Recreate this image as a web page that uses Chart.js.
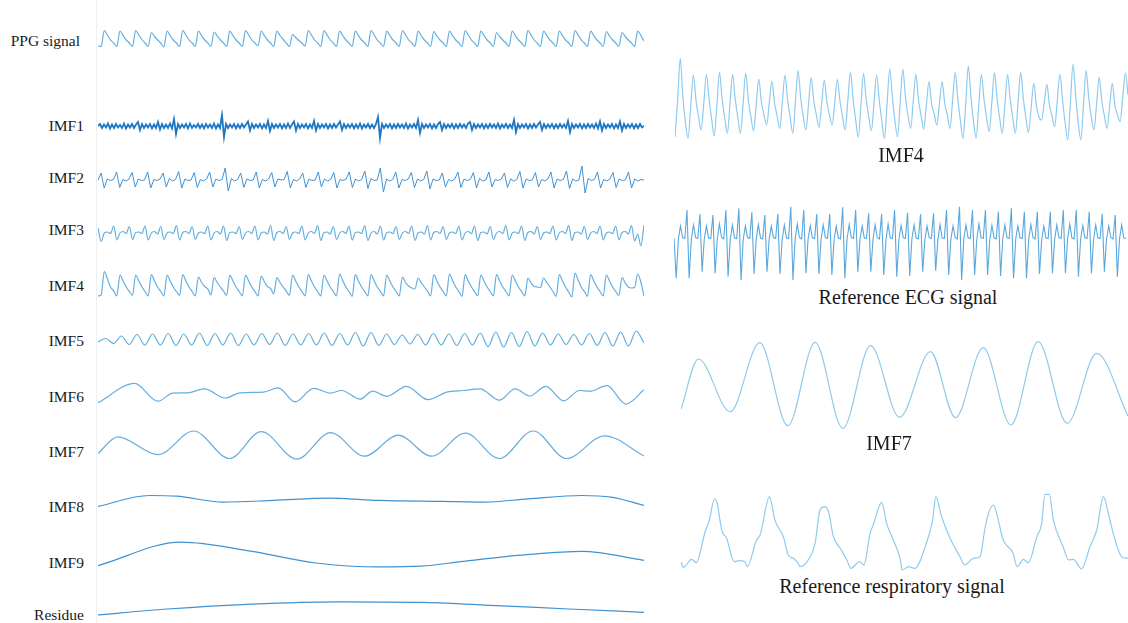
<!DOCTYPE html>
<html>
<head>
<meta charset="utf-8">
<script src="https://cdn.jsdelivr.net/npm/chart.js@4.4.1/dist/chart.umd.min.js"></script>
<style>
  body { margin: 0; background: #fff; }
  #page { position: relative; width: 1128px; height: 623px; overflow: hidden;
          font-family: "Liberation Serif", "Times New Roman", serif; color: #1a1a1a; }
  #page canvas { position: absolute; }
  .lab { position: absolute; font-size: 15.5px; line-height: 1; white-space: nowrap; transform: translateY(-50%); }
  .cap { position: absolute; font-size: 20px; line-height: 1; white-space: nowrap; transform: translate(-50%, -50%); }
  #divider { position: absolute; left: 96px; top: 0; width: 1px; height: 623px; background: #efefef; }
</style>
</head>
<body>
<div id="page"><div id="divider"></div></div>
<script>
/* ---------- DATA ---------- */
// left column, evenly sampled signals
const ppgSignal = [9, 8.5,
  24.5,20,15,12,8.5, 24,19.5,15,12,8.5, 24.5,20,15.5,12,8.5, 22.5,18.5,15,12,8, 24,19.5,15,12,8.5,
  24.5,20,15,12,8.5, 24,19.5,15,12,8.5, 23,19,15,12,8.5, 24,19.5,15,12,8.5, 24.5,20,15,12,9,
  24,19.5,15,12,8.5, 24,19.5,15.5,12,8.5, 20.5,17.5,14.5,12,9, 24.5,20,15,12,8.5, 24.5,20,15,12,8.5,
  24,19.5,15,12,8.5, 24,19.5,15,12,8.5, 24.5,20,15,12,8.5, 24,19.5,15,12,8.5, 24.5,20,15,12,8.5,
  24,19.5,15,12,8.5, 23.5,19,15,12,8.5, 24,19.5,15,12,8.5, 24.5,20,15,12,8.5, 24,19.5,15,12,8.5,
  22.5,18.5,15,12,8.5, 24,19.5,15,12,8.5, 24.5,20,15,12,8.5, 24,19.5,15,12,8.5, 24,19.5,15,12,8.5,
  24.5,20,15,12,8.5, 24,19.5,15,12,8.5, 23.5,19,15,12,8.5, 22.5,18.5,15,12,8.5,
  24,19.5,14];

const imf1 = [
  19,21,17,20.5,17.5,21.5,16.5,20.5,17,21,17.5,20,17,21.5,16.5,20.5,17.5,21,17,20.5,
  23,15,21,17,20.5,17.5,21,16.5,20.5,17,23,15.5,21,17,20.5,17,21.5,16.5,26,11,
  21,17,20.5,17.5,21,16.5,21.5,17,20,17.5,21,17,20.5,16.5,21,17.5,20.5,17,21.5,16.5,
  20.5,17,30,8,21,17,20.5,17.5,21,16.5,20.5,17,21,17.5,20.5,23.5,14.5,21,17,20.5,
  17.5,21,16.5,20.5,17,24,14,21,17,20.5,17.5,21,16.5,20.5,17,21.5,17,20.5,23.5,14.5,
  21,17,20.5,17.5,21,16.5,20.5,17,24,14.5,21,17,20.5,17.5,21,16.5,20.5,17,21,17.5,
  20.5,23.5,15,21,17,20.5,17.5,21,16.5,20.5,17,21.5,16.5,20.5,17.5,21,17,20.5,17,21,
  28,7,21,17,20.5,17.5,21,16.5,20.5,17,21,17.5,20.5,17,21.5,16.5,20.5,17.5,21,17,
  25,12,21,17,20.5,17.5,21,16.5,20.5,17,21,23,15,21,17,20.5,17.5,21,16.5,20.5,
  17,21,17.5,20.5,17,21.5,23,15,21,17,20.5,17.5,21,16.5,20.5,17,21,17.5,20.5,17,
  21.5,16.5,20.5,17.5,21,17,20.5,17,25,13,21,17,20.5,17.5,21,16.5,20.5,17,21,17.5,
  20.5,23,15,21,17,20.5,17.5,21,16.5,20.5,17,21,17.5,20.5,17,24,13,21,17,20.5,
  17.5,21,16.5,20.5,17,21,17.5,20.5,17,21.5,16.5,23.5,14.5,21,17,20.5,17.5,21,16.5,20.5,
  17,23.5,14.5,21,17,20.5,17.5,21,16.5,20.5,17,21,17.5,19];

const imf2 = [20,
  27,12,21,19.5,20.5, 28,12.5,20.5,19,21, 27.5,13,21,19.5,20, 28,12,20.5,19.5,21, 27,13,21.5,19,20.5,
  28.5,12,21,19.5,20, 27.5,12.5,20.5,19,21, 28,13,21,19.5,20.5, 32,9,21.5,19,20.5, 27,12.5,21,19.5,20,
  28,12,20.5,19,21, 27.5,13,21,20,20.5, 28.5,12,20.5,19,21, 27,12.5,21,19.5,20, 28,13,21,19,20.5,
  27.5,12,20.5,19.5,21, 28,12.5,21,19,20.5, 29,11.5,21.5,19.5,20, 32,8,21,19,20.5, 28,12,20.5,19.5,21,
  27.5,12.5,21,19,20.5, 29,11,21,19.5,20, 27,13,20.5,19,21, 28,12.5,21,19.5,20.5, 27.5,12,21.5,19,20,
  28,13,20.5,19.5,21, 27,12.5,21,19,20.5, 28.5,12,21,19.5,20, 27.5,13,20.5,19,21, 28,12,21,19.5,20.5,
  29,11.5,21,19,20, 34,7,21.5,19.5,20.5, 28,12,20.5,19,21, 27.5,12.5,21,19.5,20, 28,12,21,19,20.5,
  20];

const imf3 = [
  22,8.5,17,18,16.5, 24,10,17,18.5,16.5, 23.5,10.5,17.5,18,16.5, 24,10,17,18.5,16, 23.5,10.5,17,18,16.5,
  24.5,10,17.5,18.5,16.5, 23.5,10.5,17,18,16.5, 24,10,17,18.5,16, 24,9.5,17.5,18,16.5, 23.5,10.5,17,18.5,16.5,
  24,10,17,18,16, 24.5,9.5,17.5,18.5,16.5, 23.5,10.5,17,18,16.5, 24,10,17,18.5,16.5, 24.5,9.5,17.5,18,16,
  23.5,10.5,17,18.5,16.5, 24,10,17.5,18,16.5, 24.5,9.5,17,18.5,16, 24,10,17.5,18,16.5, 23.5,10.5,17,18.5,16.5,
  24,9.5,17,18,16, 24.5,10,17.5,18.5,16.5, 23.5,10.5,17,18,16.5, 24,10,17,18.5,16.5, 24,9.5,17.5,18,16,
  23.5,10.5,17,18.5,16.5, 24.5,10,17,18,16.5, 24,9.5,17.5,18.5,16, 23.5,10.5,17,18,16.5, 24,10,17,18.5,16.5,
  24.5,9.5,17.5,18,16, 23.5,10.5,17,18.5,16.5, 24,10,17,18,16.5, 24,10,17.5,18.5,16, 24.5,9,16,4,25];

const imf4 = [6, 7,
  30.5,23,15,11,6, 27,21,15,10.5,6.5, 27,21,15,10.5,6, 27.5,21,15,10.5,6, 27,21,15,10.5,6.5,
  27.5,21,15,10.5,6, 25,19.5,15.5,13,7, 24.5,19.5,15,11,6.5, 27,21,15,10.5,6, 27,21,15,10.5,6,
  26,20.5,15.5,13.5,8, 24.5,19.5,15,11,6.5, 27,21,15,10.5,6, 27.5,21,15,10.5,6, 27,21,15,10.5,6,
  28,21.5,15,10.5,5.5, 27.5,21,15,10.5,6, 27.5,21,15,10.5,6, 27,21,15,10.5,6, 25,19.5,16,14,13,
  24,19.5,15,11,6, 27.5,21,15,10.5,6, 28,21.5,15,10.5,5.5, 27.5,21,15,10.5,6, 27,21,15,10.5,6,
  27.5,21,15,10.5,6, 27,21,15,10.5,6, 24,19,15.5,15,14.5, 24,19.5,15,10.5,5.5, 27.5,21,15,10,5,
  29,22,15,10.5,5.5, 27.5,21,15,10.5,6, 27,21,15,10.5,6.5, 24.5,19,15,14,14.5,
  28,20,6];

const imf5 = [13,16.5,11.5,19,10.5,20.5,10,21,10,21.5,9.5,21,10,22,9.5,21.5,10,22,9.5,21,
  10,21.5,10.5,22,9.5,21,10,21.5,10,22,9.5,21.5,10,22.5,9,22.5,9.5,21,10.5,20,
  11,20.5,10,21.5,10,21,9.5,21.5,10,22,8.5,23,8,22.5,8.5,23.5,9,22,10,21,
  10.5,20.5,10,21.5,9.5,22.5,9,23,9,24,12];

// left column, slow components: time (% of record) and amplitude
const imf6T = [0,6.7,11.0,13.7,16.4,19.5,23.3,26.0,30.3,33.0,36.1,39.5,42.6,44.6,48.0,50.3,
  52.9,56.5,60.4,63.9,66.9,70.0,73.5,76.4,79.1,82.0,85.3,88.2,90.1,93.2,96.7,100];
const imf6V = [-7.8,11.6,-6.2,1.9,2.2,6.1,-3,2.2,2.9,7.1,-6.8,6.7,1.9,4.5,-4.2,3.8,
  -1.3,8.7,-4.6,2.9,4.5,6.1,-5.2,6.1,-1,8.7,-5.8,4.5,3.8,9.3,-9.1,5.2];

const imf7T = [0,3.6,11.0,17.5,24.1,29.9,36.4,42.6,48.8,55.0,61.1,67.3,73.5,79.7,85.8,92.8,100];
const imf7V = [-7.6,9.2,-8.6,15,-12.5,14.4,-13.1,13.4,-10.2,10.8,-10.2,12.8,-12.5,15,-12.5,10.2,-9.9];

const imf8T = [0,9.4,14.4,22.9,32.2,42.3,51.5,63.1,70.8,78.8,88.6,94.0,100];
const imf8V = [-6.4,4.5,3.8,-2.1,-0.4,1.9,-0.4,-1.4,-2.1,1.2,4.5,2.8,-5.4];

const imf9T = [0,15.2,28.2,39.9,51.5,59.2,66.9,78.5,88.6,100];
const imf9V = [-10.6,12.8,3.6,-8,-11.9,-11.2,-6.3,0.3,3.6,-5.3];

const residueT = [0,12.7,28.2,43.8,59.2,70.8,86.3,100];
const residueV = [-4.9,1,5.9,8.2,7.6,4.9,1,-2.3];

// right column
const imf4Zoom = [8, 45, 86.7,
  48,22,6.7,38,70, 45,28,15,42,70.7, 46,26,9,40,72.7, 46,27,11.7,41,70.7, 46,27,11.7,41,71.7,
  45,28,14,40,66, 43,30,20,42,64, 42,29,16.7,43,70, 45,27,11.7,43,74.3, 47,28,15,41,67.3,
  44,30,17.7,41,65, 43,30,20,42,65.7, 44,28,15,44,72.7, 46,25,7.7,40,71.7, 46,28,14.3,42,70,
  45,24,6.7,41,76, 48,24,8.3,42,75.7, 48,29,16.7,44,70.7, 45,29,15.7,40,63.3, 41,31,20,42,63.3,
  42,30,16.7,44,72.7, 46,24,6.7,40,79, 49,24,6.7,39,70.7, 46,27,13.3,43,72.3, 46,27,11.7,41,70.7,
  46,27,11.7,42,72.7, 47,27,12.3,37,61.7, 40,28,25,42,60.7, 40,29,18.3,45,71, 45,22,5,42,80.7,
  50,22,5,40,74.3, 47,28,15,41,67.7, 44,29,16.7,39,61.7, 40,30,23.3,48,72.3,
  50];

const ecgRef = [
  47,6.7,45.5,59,47.5,46.5,   75,6.7,45,60,47.5,46.5,     71,13.3,46,59,47,46.5,
  70,11.7,45.5,61,47.5,46,    75,8.3,45,60,47,46.5,       76.7,5,45.5,59,47.5,46.5,
  72.7,11,46,60.5,47,46,      70,13.3,45.5,59,47.5,46.5,  71,11,45,60,47,46.5,
  78.3,5,45.5,61,47.5,46,     75,11.7,46,59.5,47,46.5,    71,11,45.5,60,47.5,46.5,
  71,10,45,59,47,46,          77.7,6.7,45.5,60.5,47.5,46.5, 75,13.3,46,59,47,46.5,
  71.7,13.3,45.5,60,47.5,46,  71,10,45,61,47,46.5,        75,8.3,45.5,59.5,47.5,46.5,
  72.3,9,46,60,47,46,         71,13.3,45.5,59,47.5,46.5,  71.7,14.3,45,60.5,47,46.5,
  75,10,45.5,59,47.5,46,      78.3,5,46,60,47,46.5,       75,10,45.5,61,47.5,46.5,
  75,10,45,59.5,47,46,        73.3,9,45.5,60,47.5,46.5,   76.7,6.7,46,59,47,46.5,
  73.3,6.7,45.5,60.5,47.5,46, 73.3,11,45,59,47,46.5,      73.3,11.7,45.5,60,47.5,46.5,
  75,11.7,46,61,47,46,        75,8.3,45.5,59.5,47.5,46.5, 73.3,11.7,45,60,47,46.5,
  71,13.3,45.5,59,47.5,46,    70,8.3,46,60,47,46.5];

const imf7ZoomT = [0,3.9,11.0,17.6,23.9,30.0,36.2,42.4,48.9,55.8,61.4,67.6,73.8,79.9,86.4,93.0,100];
const imf7ZoomV = [-24.3,26,-26.7,42.3,-40.7,42.7,-43.3,39.3,-32.3,33.3,-32.7,37.3,-40,43.3,-38.3,31.7,-31];

const respT = [0,0.5,2.4,3.4,5.4,6.3,7.5,8.1,9.1,10.2,11.9,13.2,14.3,14.8,16.9,17.7,19.8,21.0,22.9,24.0,
  25.1,26.2,26.6,28.9,30.0,31.1,32.2,33.0,34.1,35.6,37.1,38.0,40.0,40.9,42.3,43.0,44.9,46.0,47.5,49.0,
  49.5,50.9,52.3,55.0,56.3,57.0,58.3,60.2,62.4,63.5,65.4,66.9,68.0,68.8,69.9,70.6,72.1,74.3,75.2,76.6,
  77.7,79.6,80.7,81.4,82.4,83.3,85.5,86.7,87.8,89.6,91.5,93.0,94.5,95.6,96.7,98.6,100];
const respV = [-21.7,-27.3,-19.3,-22.7,8.3,19.3,41,36.7,10,1.7,-21.7,-20.7,-21.7,-26.7,0,5,43.3,20,3.3,-15,
  -18.3,-23.3,-26.7,-16.7,-3.3,30,33.3,28.3,3.3,-8.3,-20,-28.3,-21.7,-25,6.7,15,37.7,16.7,0,-18.3,
  -30,-26.7,-28.3,-1.7,20,43.3,23.3,1.7,-16.7,-25,-18.3,-16.7,11.7,26.7,35,26.7,0,-13.3,-26.7,-19.3,
  -22.7,3.3,16.7,45.7,45.7,20,-6.7,-20,-19.3,-29,-6.7,10,43.3,26.7,6.7,-16.7,-18.3];

const leftLabels = ["PPG signal", "IMF1", "IMF2", "IMF3", "IMF4", "IMF5", "IMF6", "IMF7", "IMF8", "IMF9", "Residue"];
const rightCaptions = ["IMF4", "Reference ECG signal", "IMF7", "Reference respiratory signal"];

/* ---------- LAYOUT ---------- */
const LEFT = "#64aee0", DARK = "#1f77c2", MID = "#3f92d2", LIGHT = "#8fcbee";
const labelY = [41, 126, 178, 230, 286, 341, 397, 452, 507, 563, 615];
const labelRight = [80, 84, 84, 84, 84, 84, 84, 84, 84, 84, 84];
const captionPos = [[901, 155], [908, 297], [889, 443], [892, 586]];

// box = [left, top, width, height]
const traces = [
  { vals: ppgSignal, box: [98, 20, 546, 35],  y: [0, 35],   color: LEFT, smooth: true },
  { vals: imf1,      box: [98, 110, 546, 35], y: [0, 35],   color: DARK, width: 1.8 },
  { vals: imf2,      box: [98, 160, 546, 40], y: [0, 40],   color: MID, width: 1 },
  { vals: imf3,      box: [98, 220, 546, 30], y: [0, 30],   color: LEFT, smooth: true },
  { vals: imf4,      box: [98, 262, 546, 40], y: [0, 40],   color: LEFT, smooth: true },
  { vals: imf5,      box: [98, 325, 546, 30], y: [0, 30],   color: LEFT, smooth: true },
  { t: imf6T, vals: imf6V, box: [98, 375, 546, 35], y: [-15, 20], color: LEFT, smooth: true },
  { t: imf7T, vals: imf7V, box: [98, 425, 546, 40], y: [-19, 21], color: LEFT, smooth: true },
  { t: imf8T, vals: imf8V, box: [98, 485, 546, 30], y: [-15, 15], color: MID, smooth: true },
  { t: imf9T, vals: imf9V, box: [98, 535, 546, 40], y: [-20, 20], color: MID, smooth: true },
  { t: residueT, vals: residueV, box: [98, 595, 546, 25], y: [-10, 15], color: MID, smooth: true },
  { vals: imf4Zoom,  box: [675, 50, 453, 95], y: [0, 95],   color: LIGHT, smooth: true },
  { vals: ecgRef,    box: [674, 200, 452, 85], y: [0, 85],  color: "#5aa8dc", width: 1.1 },
  { t: imf7ZoomT, vals: imf7ZoomV, box: [681, 335, 447, 100], y: [-50, 50], color: LIGHT, smooth: true },
  { t: respT, vals: respV, box: [681, 485, 447, 90], y: [-35, 55], color: LIGHT, smooth: true }
];

const page = document.getElementById("page");

function drawTrace(tr) {
  const cv = document.createElement("canvas");
  cv.width = tr.box[2];
  cv.height = tr.box[3];
  cv.style.left = tr.box[0] + "px";
  cv.style.top = tr.box[1] + "px";
  page.appendChild(cv);

  const pts = tr.vals.map((v, i) => ({ x: tr.t ? tr.t[i] : i, y: v }));
  new Chart(cv, {
    type: "line",
    data: {
      datasets: [{
        data: pts,
        borderColor: tr.color,
        borderWidth: tr.width || 1.2,
        pointRadius: 0,
        fill: false,
        clip: false,
        tension: tr.smooth ? 0.4 : 0,
        cubicInterpolationMode: tr.smooth ? "monotone" : "default"
      }]
    },
    options: {
      responsive: false,
      animation: false,
      events: [],
      layout: { padding: 0 },
      plugins: { legend: { display: false }, tooltip: { enabled: false } },
      scales: {
        x: { type: "linear", display: false, min: pts[0].x, max: pts[pts.length - 1].x },
        y: { display: false, min: tr.y[0], max: tr.y[1] }
      }
    }
  });
}

traces.forEach(drawTrace);

/* ---------- TEXT ---------- */
leftLabels.forEach((txt, i) => {
  const d = document.createElement("div");
  d.className = "lab";
  d.style.right = (1128 - labelRight[i]) + "px";
  d.style.top = labelY[i] + "px";
  d.textContent = txt;
  page.appendChild(d);
});

rightCaptions.forEach((txt, i) => {
  const d = document.createElement("div");
  d.className = "cap";
  d.style.left = captionPos[i][0] + "px";
  d.style.top = captionPos[i][1] + "px";
  d.textContent = txt;
  page.appendChild(d);
});
</script>
</body>
</html>
